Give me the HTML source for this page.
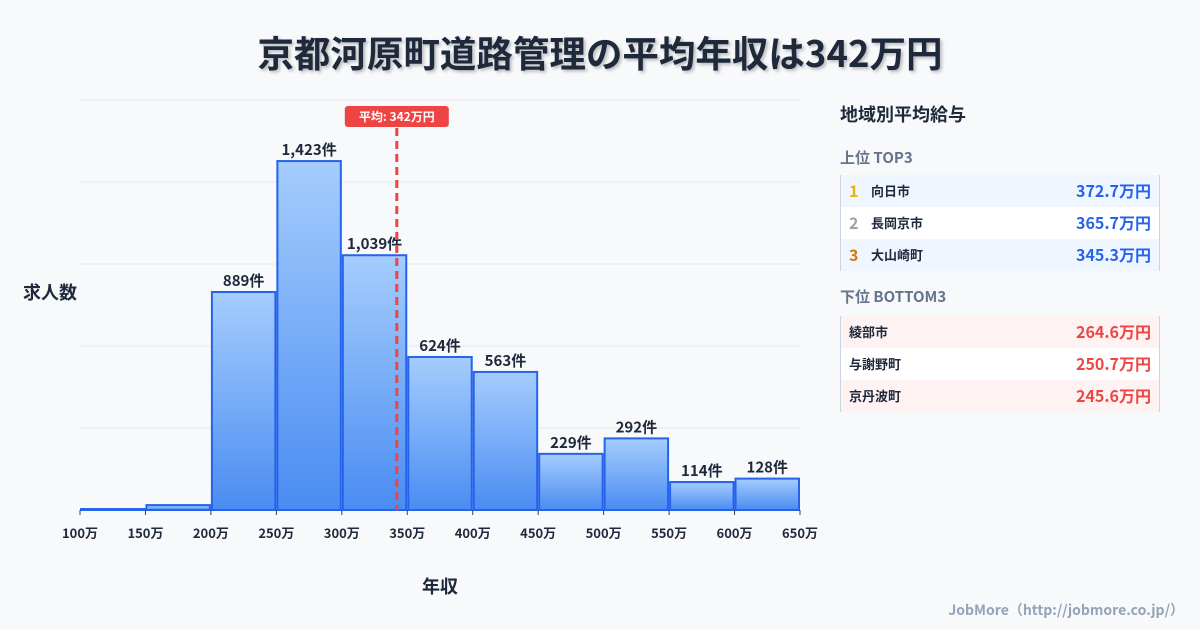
<!DOCTYPE html>
<html><head><meta charset="utf-8"><style>
body{margin:0;width:1200px;height:630px;background:#f8f9fb;font-family:"Noto Sans CJK JP","Liberation Sans",sans-serif;position:relative;overflow:hidden;color:#1e293b}
.t{position:absolute;left:0;width:1200px;top:27px;text-align:center;font-size:36.5px;line-height:50px;font-weight:bold;text-shadow:2px 2px 3px rgba(0,0,0,.25)}
.p{position:absolute;left:840px;width:320px;line-height:1.2}
.row{display:flex;align-items:center;height:32px;font-size:13px;font-weight:bold;border-left:1px solid #cbd5e1;border-right:1px solid #cbd5e1;padding:0 8px 0 8px;box-sizing:border-box}
.row .v{margin-left:auto;font-size:16px}
.rk{width:22px;font-size:16px;display:inline-block}
</style></head><body>
<div class="t">京都河原町道路管理の平均年収は342万円</div>
<svg width="1200" height="630" style="position:absolute;left:0;top:0" id="c">
<defs><linearGradient id="g" x1="0" y1="0" x2="0" y2="1"><stop offset="0" stop-color="#a5cdfd"/><stop offset="1" stop-color="#4a8cf2"/></linearGradient></defs>
<text x="50" y="299" font-size="18" font-weight="bold" text-anchor="middle" fill="#1e293b">求人数</text>
<text x="440" y="593" font-size="18" font-weight="bold" text-anchor="middle" fill="#1e293b">年収</text>
</svg>
<div class="p" style="top:104px;font-size:18px;font-weight:bold">地域別平均給与</div>
<div class="p" style="top:149px;font-size:15px;font-weight:bold;color:#64748b">上位 TOP3</div>
<div class="p" style="top:175px">
<div class="row" style="background:#eff6ff"><span class="rk" style="color:#eab308">1</span>向日市<span class="v" style="color:#2563eb">372.7万円</span></div>
<div class="row" style="background:#fff"><span class="rk" style="color:#9ca3af">2</span>長岡京市<span class="v" style="color:#2563eb">365.7万円</span></div>
<div class="row" style="background:#eff6ff"><span class="rk" style="color:#d97706">3</span>大山崎町<span class="v" style="color:#2563eb">345.3万円</span></div>
</div>
<div class="p" style="top:288px;font-size:15px;font-weight:bold;color:#64748b">下位 BOTTOM3</div>
<div class="p" style="top:316px">
<div class="row" style="background:#fef2f2">綾部市<span class="v" style="color:#ef4444">264.6万円</span></div>
<div class="row" style="background:#fff">与謝野町<span class="v" style="color:#ef4444">250.7万円</span></div>
<div class="row" style="background:#fef2f2">京丹波町<span class="v" style="color:#ef4444">245.6万円</span></div>
</div>
<div style="position:absolute;right:16px;top:600px;font-size:14px;font-weight:bold;color:#94a3b8">JobMore（http://jobmore.co.jp/）</div>
<script>
const binStarts=[100,150,200,250,300,350,400,450,500,550,600];
const counts=[4,20,889,1423,1039,624,563,229,292,114,128];
const labels=[null,null,"889件","1,423件","1,039件","624件","563件","229件","292件","114件","128件"];
const ticks=[100,150,200,250,300,350,400,450,500,550,600,650];
const meanValue=342;
const yMax=1672;
const NS="http://www.w3.org/2000/svg";
const svg=document.getElementById('c');
const X0=80,X1=800,Y0=510,Y1=100;
const xs=v=>X0+(v-100)/550*(X1-X0);
const ys=v=>Y0-v/yMax*(Y0-Y1);
function mk(t,a){const e=document.createElementNS(NS,t);for(const k in a)e.setAttribute(k,a[k]);svg.appendChild(e);return e;}
for(let i=1;i<=5;i++){const y=Y0-i*(Y0-Y1)/5;const l=mk('line',{x1:X0,x2:X1,y1:y,y2:y,stroke:'#e5e7eb','stroke-width':1});

}
binStarts.forEach((b,i)=>{const x=xs(b)+1,w=xs(b+50)-xs(b)-2,y=ys(counts[i]);
const r=mk('rect',{x:x,y:y,width:w,height:Y0-y,fill:'url(#g)',stroke:'#2563eb','stroke-width':2});


if(labels[i]){const t=mk('text',{x:x+w/2,y:y-6,'font-size':15,'font-weight':'bold','text-anchor':'middle',fill:'#1e293b'});t.textContent=labels[i];

}});
ticks.forEach(v=>{const x=xs(v);const l=mk('line',{x1:x,x2:x,y1:Y0,y2:Y0+5,stroke:'#334155','stroke-width':1});


const t=mk('text',{x:x,y:Y0+28,'font-size':13,'font-weight':'bold','text-anchor':'middle',fill:'#1e293b'});t.textContent=v+'万';

});
const mx=xs(meanValue);
const ml=mk('line',{x1:mx,x2:mx,y1:128,y2:Y0,stroke:'#ef4444','stroke-width':3,'stroke-dasharray':'8,5'});


const mb=mk('rect',{x:mx-52,y:106,width:104,height:21,rx:3,fill:'#ef4444'});


const mt=mk('text',{x:mx,y:121,'font-size':12,'font-weight':'bold','text-anchor':'middle',fill:'#fff'});mt.textContent='平均: '+meanValue+'万円';


</script>
</body></html>
